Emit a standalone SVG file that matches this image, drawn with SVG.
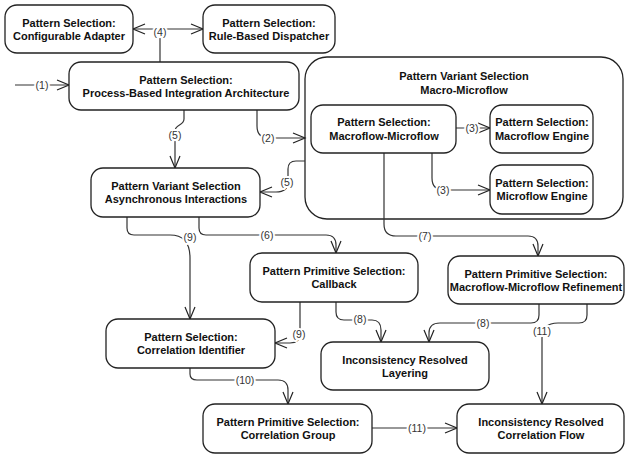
<svg xmlns="http://www.w3.org/2000/svg" width="626" height="456" viewBox="0 0 626 456">
<defs>
<marker id="arr" markerUnits="userSpaceOnUse" markerWidth="14" markerHeight="12" refX="12" refY="5" orient="auto" overflow="visible">
<path d="M0,0 L12,5 L0,10" fill="none" stroke="#222" stroke-width="1.2"/>
</marker>
</defs>
<style>
.box{fill:#fff;stroke:#222;stroke-width:1.3}
.t{font-family:"Liberation Sans",Arial,sans-serif;font-size:11px;font-weight:bold;fill:#111;text-anchor:middle}
.c{fill:none;stroke:#333;stroke-width:1.2}
.a{marker-end:url(#arr)}
.l{font-family:"Liberation Sans",Arial,sans-serif;font-size:10.5px;fill:#333;text-anchor:middle;stroke:#fff;stroke-width:4;paint-order:stroke;stroke-linejoin:round}
</style>
<rect width="626" height="456" fill="#fff"/>
<g id="container">
<rect class="box" x="305" y="57" width="318" height="162" rx="22"/>
<text class="t" x="464" y="80">Pattern Variant Selection</text>
<text class="t" x="464" y="94">Macro-Microflow</text>
</g>
<g id="connectors">
<path class="c a" d="M15,85 H69"/>
<path class="c" d="M160,62 V38"/>
<path class="c a" d="M160,35 Q160,29 152,29 H133"/>
<path class="c a" d="M160,35 Q160,29 168,29 H203"/>
<path class="c a" d="M184,110 V119 C184,126 175,124 175,131 V168"/>
<path class="c a" d="M257,110 V126 Q257,138 269,138 H305"/>
<path class="c a" d="M305,161 H296 Q288,161 288,169 V182 Q288,192 276,192 H260"/>
<path class="c a" d="M456,128 H490"/>
<path class="c a" d="M432,153 V178 Q432,190 444,190 H490"/>
<path class="c a" d="M384,153 V224 Q384,236 396,236 H528 Q538,236 538,246 V256"/>
<path class="c a" d="M127,217 V228 Q127,235 134,235 H170 Q190,235 190,258 V319"/>
<path class="c a" d="M199,217 V228 Q199,235 206,235 H326 Q336,235 336,245 V253"/>
<path class="c a" d="M300,302 V334 Q300,343 290,343 H275"/>
<path class="c a" d="M336,302 V312 Q336,320 344,320 H372 Q381,320 381,330 V342"/>
<path class="c a" d="M539,304 V315 Q539,323 531,323 H440 Q429,323 429,333 V342"/>
<path class="c a" d="M587,304 V315 Q587,323 579,323 H558 Q542,323 542,338 V404"/>
<path class="c a" d="M190,368 V374 Q190,380 197,380 H278 Q288,380 288,390 V404"/>
<path class="c a" d="M372,428 H457"/>
<text class="l" x="42" y="89">(1)</text>
<text class="l" x="160" y="36">(4)</text>
<text class="l" x="175" y="139">(5)</text>
<text class="l" x="268" y="142">(2)</text>
<text class="l" x="287" y="186">(5)</text>
<text class="l" x="472" y="132">(3)</text>
<text class="l" x="443" y="194">(3)</text>
<text class="l" x="425" y="240">(7)</text>
<text class="l" x="190" y="241">(9)</text>
<text class="l" x="267" y="239">(6)</text>
<text class="l" x="299" y="338">(9)</text>
<text class="l" x="360" y="323">(8)</text>
<text class="l" x="483" y="327">(8)</text>
<text class="l" x="542" y="335">(11)</text>
<text class="l" x="245" y="384">(10)</text>
<text class="l" x="417" y="432">(11)</text>
</g>
<g id="adapter">
<rect class="box" x="5" y="5" width="128" height="48" rx="12"/>
<text class="t" x="69" y="27">Pattern Selection:</text>
<text class="t" x="69" y="40">Configurable Adapter</text>
</g>
<g id="dispatcher">
<rect class="box" x="203" y="5" width="132" height="48" rx="12"/>
<text class="t" x="269" y="27">Pattern Selection:</text>
<text class="t" x="269" y="40">Rule-Based Dispatcher</text>
</g>
<g id="process">
<rect class="box" x="69" y="62" width="230" height="48" rx="12"/>
<text class="t" x="186" y="84">Pattern Selection:</text>
<text class="t" x="186" y="97">Process-Based Integration Architecture</text>
</g>
<g id="macromicro">
<rect class="box" x="311" y="105" width="145" height="48" rx="12"/>
<text class="t" x="384" y="126">Pattern Selection:</text>
<text class="t" x="384" y="140">Macroflow-Microflow</text>
</g>
<g id="macroengine">
<rect class="box" x="490" y="105" width="103" height="48" rx="12"/>
<text class="t" x="542" y="126">Pattern Selection:</text>
<text class="t" x="542" y="140">Macroflow Engine</text>
</g>
<g id="microengine">
<rect class="box" x="490" y="165" width="103" height="49" rx="12"/>
<text class="t" x="542" y="187">Pattern Selection:</text>
<text class="t" x="542" y="200">Microflow Engine</text>
</g>
<g id="async">
<rect class="box" x="91" y="168" width="169" height="49" rx="12"/>
<text class="t" x="176" y="190">Pattern Variant Selection</text>
<text class="t" x="176" y="203">Asynchronous Interactions</text>
</g>
<g id="callback">
<rect class="box" x="250" y="253" width="168" height="49" rx="12"/>
<text class="t" x="334" y="275">Pattern Primitive Selection:</text>
<text class="t" x="334" y="288">Callback</text>
</g>
<g id="refinement">
<rect class="box" x="448" y="256" width="176" height="48" rx="12"/>
<text class="t" x="536" y="278">Pattern Primitive Selection:</text>
<text class="t" x="536" y="291">Macroflow-Microflow Refinement</text>
</g>
<g id="corrid">
<rect class="box" x="106" y="319" width="169" height="49" rx="12"/>
<text class="t" x="191" y="341">Pattern Selection:</text>
<text class="t" x="191" y="354">Correlation Identifier</text>
</g>
<g id="layering">
<rect class="box" x="321" y="342" width="168" height="48" rx="12"/>
<text class="t" x="405" y="364">Inconsistency Resolved</text>
<text class="t" x="405" y="377">Layering</text>
</g>
<g id="corrgroup">
<rect class="box" x="203" y="404" width="169" height="49" rx="12"/>
<text class="t" x="288" y="426">Pattern Primitive Selection:</text>
<text class="t" x="288" y="439">Correlation Group</text>
</g>
<g id="corrflow">
<rect class="box" x="457" y="404" width="167" height="49" rx="12"/>
<text class="t" x="541" y="426">Inconsistency Resolved</text>
<text class="t" x="541" y="439">Correlation Flow</text>
</g>
</svg>
